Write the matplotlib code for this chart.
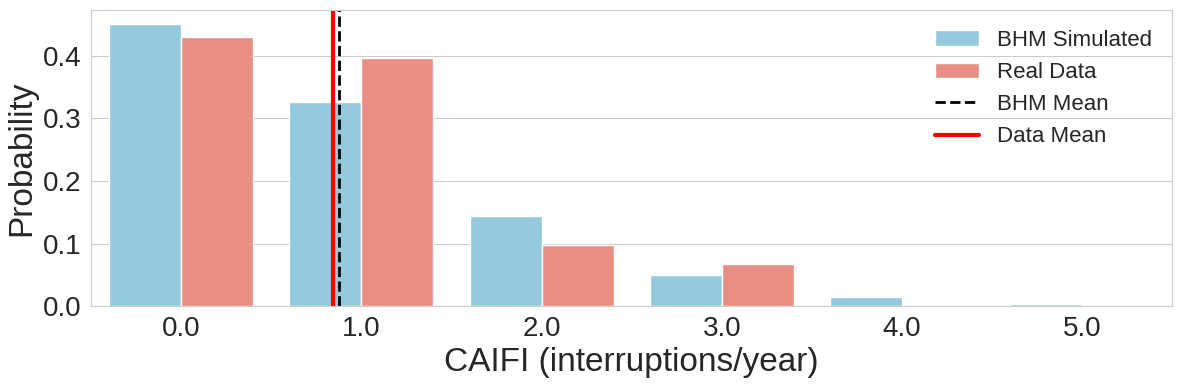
import numpy as np
import matplotlib
matplotlib.use('Agg')
import matplotlib.pyplot as plt
import pandas as pd
import seaborn as sns

# values
caifi_levels = ['0.0', '1.0', '2.0', '3.0', '4.0', '5.0']
bhm_probs = [0.451, 0.327, 0.144, 0.050, 0.015, 0.003]
real_probs = [0.430, 0.397, 0.097, 0.068, 0.0, 0.0]
bhm_mean = 0.876
data_mean = 0.843

df = pd.DataFrame({
    'CAIFI': caifi_levels * 2,
    'Probability': bhm_probs + real_probs,
    'Source': ['BHM Simulated'] * len(caifi_levels) + ['Real Data'] * len(caifi_levels),
})

sns.set_style('whitegrid')
plt.rcParams['font.family'] = ['Liberation Sans', 'DejaVu Sans']

fig, ax = plt.subplots(figsize=(11.84, 3.84), dpi=100)
fig.subplots_adjust(left=0.077, right=0.990, top=0.974, bottom=0.203)

sns.barplot(data=df, x='CAIFI', y='Probability', hue='Source',
            palette=['skyblue', 'salmon'], ax=ax)

ax.axvline(bhm_mean, color='k', linestyle='--', linewidth=2, label='BHM Mean')
ax.axvline(data_mean, color='red', linestyle='-', linewidth=3, label='Data Mean')

ax.set_xlabel('CAIFI (interruptions/year)', fontsize=24)
ax.set_ylabel('Probability', fontsize=24)
ax.tick_params(axis='both', labelsize=20)
ax.set_yticks([0.0, 0.1, 0.2, 0.3, 0.4])
ax.grid(axis='x', visible=False)

ax.legend(loc='upper right', fontsize=16, frameon=False)

plt.savefig('out.png', dpi=100)
